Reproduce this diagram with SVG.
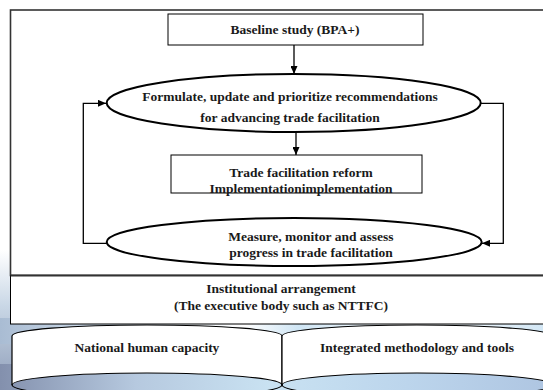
<svg xmlns="http://www.w3.org/2000/svg" width="543" height="390" viewBox="0 0 543 390">
<defs>
<linearGradient id="gLeft" x1="0" y1="0" x2="0" y2="1">
<stop offset="0" stop-color="#ffffff"/>
<stop offset="0.4" stop-color="#c9d7e6"/>
<stop offset="1" stop-color="#8e9db8"/>
</linearGradient>
<linearGradient id="gGap" x1="0" y1="0" x2="1" y2="0">
<stop offset="0" stop-color="#a9bcd3"/>
<stop offset="0.3" stop-color="#e8f1f8"/>
<stop offset="0.45" stop-color="#ffffff"/>
<stop offset="0.55" stop-color="#cfe5f4"/>
<stop offset="0.75" stop-color="#ffffff"/>
<stop offset="1" stop-color="#d3e7f5"/>
</linearGradient>
<linearGradient id="gBottom" x1="0" y1="0" x2="1" y2="0">
<stop offset="0" stop-color="#8390ad"/>
<stop offset="0.25" stop-color="#b6c9df"/>
<stop offset="0.5" stop-color="#c9e2f2"/>
<stop offset="0.75" stop-color="#bcd5ec"/>
<stop offset="1" stop-color="#afc6e2"/>
</linearGradient>
<marker id="arr" markerWidth="8" markerHeight="7" refX="8" refY="3.5" orient="auto" markerUnits="userSpaceOnUse">
<path d="M0,0 L8,3.5 L0,7 Z" fill="#000"/>
</marker>
</defs>
<style>
.t{font-family:"Liberation Serif","Times New Roman",serif;font-weight:bold;font-size:13.5px;fill:#1a1a1a;text-anchor:middle}
.box{fill:#fff;stroke:#000;stroke-width:1}
.ell{fill:#fff;stroke:#000;stroke-width:2}
.con{fill:none;stroke:#000;stroke-width:1.3}
.cyl{fill:none;stroke:#000;stroke-width:1.2}
</style>
<rect x="0" y="0" width="543" height="390" fill="#fff"/>
<g id="background">
<rect x="0" y="250" width="12" height="140" fill="url(#gLeft)"/>
<rect x="0" y="318" width="543" height="26" fill="url(#gGap)"/>
<rect x="0" y="364" width="543" height="26" fill="url(#gBottom)"/>
</g>
<g id="frame">
<rect x="10.5" y="10" width="540" height="265.5" fill="#fff" stroke="#333" stroke-width="1.6"/>
</g>
<g id="baseline">
<rect class="box" x="168" y="14" width="255" height="31"/>
<text class="t" x="295" y="34">Baseline study (BPA+)</text>
</g>
<g id="formulate">
<ellipse class="ell" cx="293.7" cy="103" rx="187" ry="29"/>
<text class="t" x="290" y="101">Formulate, update and prioritize recommendations</text>
<text class="t" x="290" y="122">for advancing trade facilitation</text>
</g>
<g id="reform">
<rect class="box" x="171" y="155" width="251" height="38"/>
<text class="t" x="301" y="177">Trade facilitation reform</text>
<text class="t" x="301" y="193">Implementationimplementation</text>
</g>
<g id="measure">
<ellipse class="ell" cx="294.2" cy="242" rx="187.5" ry="24"/>
<text class="t" x="311" y="241">Measure, monitor and assess</text>
<text class="t" x="311" y="257">progress in trade facilitation</text>
</g>
<g id="connectors">
<line class="con" x1="294" y1="45" x2="294" y2="74" marker-end="url(#arr)"/>
<line class="con" x1="296" y1="132" x2="296" y2="155" marker-end="url(#arr)"/>
<path class="con" d="M106.7,243.3 H83.3 V103.3 H106" marker-end="url(#arr)"/>
<path class="con" d="M480.7,103.3 H503.3 V243.3 H482" marker-end="url(#arr)"/>
</g>
<g id="institutional">
<rect x="10.5" y="275.5" width="540" height="48.5" fill="#fff" stroke="#000" stroke-width="1"/>
<line x1="10.5" y1="275.5" x2="543" y2="275.5" stroke="#333" stroke-width="2"/>
<text class="t" x="281" y="293">Institutional arrangement</text>
<text class="t" x="281" y="309.5">(The executive body such as NTTFC)</text>
</g>
<g id="national">
<path d="M12,336 A135,11 0 0 1 282,336 V385 A135,12 0 0 0 12,385 Z" fill="#fff"/>
<path class="cyl" d="M12,385 V336 A135,11 0 0 1 282,336 V385"/>
<ellipse class="cyl" cx="147" cy="385" rx="135" ry="12"/>
<text class="t" x="147" y="352">National human capacity</text>
</g>
<g id="integrated">
<path d="M282,336 A135,11 0 0 1 552,336 V385 A135,12 0 0 0 282,385 Z" fill="#fff"/>
<path class="cyl" d="M282,385 V336 A135,11 0 0 1 552,336 V385"/>
<ellipse class="cyl" cx="417" cy="385" rx="135" ry="12"/>
<text class="t" x="417" y="352">Integrated methodology and tools</text>
</g>
</svg>
